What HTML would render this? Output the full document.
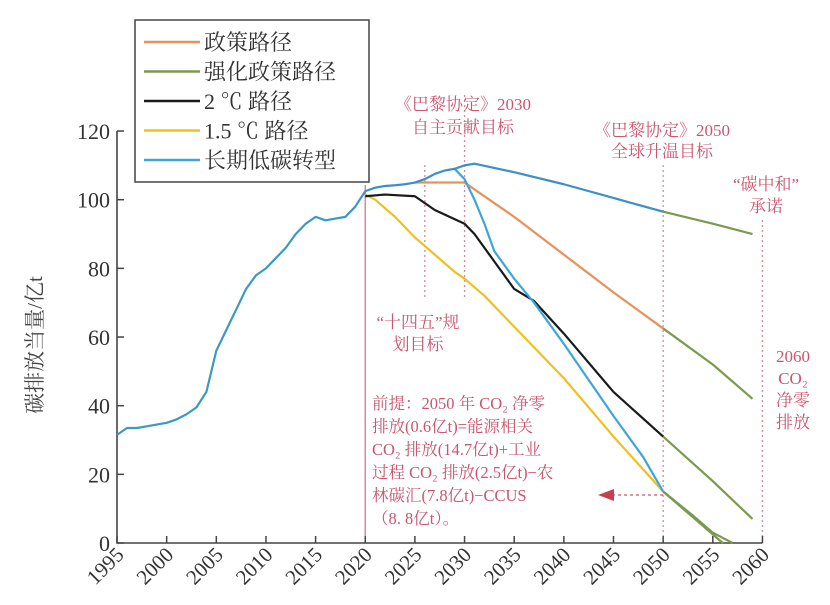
<!DOCTYPE html>
<html><head><meta charset="utf-8"><style>
html,body{margin:0;padding:0;background:#fff;}
svg{display:block;font-family:"Liberation Serif","Noto Serif CJK SC",serif;}
</style></head><body>
<svg id="chart" width="830" height="605" viewBox="0 0 830 605"></svg>
<script>
const hYears=[1995,1996,1997,1998,1999,2000,2001,2002,2003,2004,2005,2006,2007,2008,2009,2010,2011,2012,2013,2014,2015,2016,2017,2018,2019,2020];
const hVals=[31.5,33.5,33.5,34,34.5,35,36,37.5,39.5,44,56,62,68,74,78,80,83,86,90,93,95,94,94.5,95,98,102.5];
const ltYears=[2020,2021,2022,2023,2024,2025,2026,2027,2028,2029,2030,2031,2035,2040,2045,2050];
const ltVals=[102.5,103.5,104,104.2,104.5,105,106,107.5,108.5,109,110,110.5,108,104.5,100.5,96.5];
const ltGYears=[2050,2055,2059];
const ltGVals=[96.5,93,90];
const b2Years=[2029,2030,2031,2032,2033,2035,2037,2040,2045,2048,2050];
const b2Vals=[109,106,100,93,85,77,70,58,37,25,15];
const polYears=[2025,2030,2035,2040,2045,2050];
const polVals=[105,105,95,84,73,62.5];
const polGYears=[2050,2055,2059];
const polGVals=[62.5,52,42];
const t2Years=[2020,2022,2025,2027,2030,2031,2033,2035,2037,2040,2045,2050];
const t2Vals=[101,101.5,101,97,93,90,82,74,70.5,61,44,31];
const t2GYears=[2050,2055,2059];
const t2GVals=[31,18,7];
const t15Years=[2020,2021,2023,2025,2027,2029,2030,2032,2035,2040,2045,2050];
const t15Vals=[101.5,100,95,89,84,79,77,72,63,48,31,15];
const t15GYears=[2050,2053,2055,2057];
const t15GVals=[15,8,3,0];
const t15G2Years=[2050,2054,2056];
const t15G2Vals=[15,5,0];
const yTicks=[0,20,40,60,80,100,120];
const xTicks=[1995,2000,2005,2010,2015,2020,2025,2030,2035,2040,2045,2050,2055,2060];

const svg=document.getElementById('chart');
const NS='http://www.w3.org/2000/svg';
const X=y=>117+(y-1995)*9.93;
const Y=v=>543-v*3.433;
function mk(tag,attrs,parent){const e=document.createElementNS(NS,tag);for(const k in attrs)e.setAttribute(k,attrs[k]);(parent||svg).appendChild(e);return e;}
function txt(s,x,y,attrs){const e=mk('text',Object.assign({x:x,y:y},attrs||{}));e.textContent=s;return e;}
const pink='#c9566f';

// reference lines
let l;
l=mk('line',{x1:X(2020),y1:185,x2:X(2020),y2:543,stroke:'#d88a9a','stroke-width':1.5});


[[2026,165,300],[2030,95,300],[2050,165,543],[2060,220,543]].forEach(r=>{
 const d=mk('line',{x1:X(r[0]),y1:r[1],x2:X(r[0]),y2:r[2],stroke:'#d88a9a','stroke-width':1.3,'stroke-dasharray':'2,3'});
 
 
});

// axes
const ax=mk('path',{d:`M117,131 V543 H${X(2060)}`,fill:'none',stroke:'#444','stroke-width':1.6});


yTicks.forEach(v=>{
 mk('line',{x1:117,y1:Y(v),x2:124,y2:Y(v),stroke:'#444','stroke-width':1.5});
 const t=txt(String(v),110,Y(v)+8,{'text-anchor':'end','font-size':22,fill:'#333'});
 
 
});
xTicks.forEach(v=>{
 mk('line',{x1:X(v),y1:543,x2:X(v),y2:536,stroke:'#444','stroke-width':1.5});
 const t=txt(String(v),X(v)+8,556,{'text-anchor':'end','font-size':21,fill:'#333',transform:`rotate(-45 ${X(v)+8} 556)`});
 
 
});
const yt=txt('碳排放当量/亿t',42,345,{'text-anchor':'middle','font-size':21,fill:'#444',transform:'rotate(-90 42 345)'});



function line(xs,vs,color,name){
 const p=mk('polyline',{points:xs.map((x,i)=>X(x)+','+Y(vs[i])).join(' '),fill:'none',stroke:color,'stroke-width':2.2,'stroke-linejoin':'round'});
 
 
}
const G='#7a9a4e';
line(polGYears,polGVals,G,'policy-continuation-line');
line(t2GYears,t2GVals,G,'2c-continuation-line');
line(t15GYears,t15GVals,G,'1.5c-continuation-line');
line(t15G2Years,t15G2Vals,G,'1.5c-continuation-line-2');
line(ltGYears,ltGVals,G,'longterm-continuation-line');
line(polYears,polVals,'#e8925a','policy-path-line');
line(t15Years,t15Vals,'#f0c020','1.5c-path-line');
line(t2Years,t2Vals,'#1a1a1a','2c-path-line');
line(b2Years,b2Vals,'#3fa5d8','lowcarbon-drop-line');
line(ltYears,ltVals,'#3a90c8','longterm-lowcarbon-line');
line(hYears,hVals,'#3a9ac0','historical-line');

// arrow
const ar=mk('line',{x1:612,y1:495,x2:X(2050),y2:495,stroke:pink,'stroke-width':1.3,'stroke-dasharray':'3,3'});


const ah=mk('polygon',{points:'598,495 614,489 614,501',fill:'#c8404f'});



// annotations
function ann(lines,x,y0,dy,anchor,size,name){
 const g=mk('g',{});
 
 
 lines.forEach((s,i)=>txt(s,x,y0+i*dy,{'text-anchor':anchor,'font-size':size,fill:pink},).remove||0);
 lines.forEach((s,i)=>{const t=document.createElementNS(NS,'text');t.setAttribute('x',x);t.setAttribute('y',y0+i*dy);t.setAttribute('text-anchor',anchor);t.setAttribute('font-size',size);t.setAttribute('fill',pink);t.textContent=s;g.appendChild(t);});
}
// clean: simpler version without duplicates
function ann2(lines,x,y0,dy,anchor,size,name){
 const g=mk('g',{});
 
 
 lines.forEach((s,i)=>{const t=document.createElementNS(NS,'text');t.setAttribute('x',x);t.setAttribute('y',y0+i*dy);t.setAttribute('text-anchor',anchor);t.setAttribute('font-size',size);t.setAttribute('fill',pink);t.textContent=s;g.appendChild(t);});
}
ann2(['《巴黎协定》2030','自主贡献目标'],463,110,23,'middle',17,'annotation-paris-2030');
ann2(['《巴黎协定》2050','全球升温目标'],662,136,21,'middle',17,'annotation-paris-2050');
ann2(['“碳中和”','承诺'],766,190,22,'middle',17,'annotation-carbon-neutral');
ann2(['“十四五”规','划目标'],418,328,22,'middle',17,'annotation-14th-plan');
ann2(['2060','CO₂','净零','排放'],793,362,22,'middle',17,'annotation-2060');
ann2(['前提：2050 年 CO₂ 净零','排放(0.6亿t)=能源相关','CO₂ 排放(14.7亿t)+工业','过程 CO₂ 排放(2.5亿t)−农','林碳汇(7.8亿t)−CCUS','（8. 8亿t）。'],372,409,23,'start',16.5,'annotation-premise');

// legend
const lg=mk('g',{});


const lr=document.createElementNS(NS,'rect');
lr.setAttribute('x',135);lr.setAttribute('y',20);lr.setAttribute('width',234);lr.setAttribute('height',162);lr.setAttribute('fill','#fff');lr.setAttribute('stroke','#444');lr.setAttribute('stroke-width',1.5);
lg.appendChild(lr);
const legNames=['政策路径','强化政策路径','2 ℃ 路径','1.5 ℃ 路径','长期低碳转型'];
const legColors=['#e8925a','#7a9a4e','#1a1a1a','#f0c020','#3fa5d8'];
legNames.forEach((n,i)=>{
 const y=42+i*29.5;
 const e=document.createElementNS(NS,'g');
 
 
 const ln=document.createElementNS(NS,'line');
 ln.setAttribute('x1',144);ln.setAttribute('x2',200);ln.setAttribute('y1',y);ln.setAttribute('y2',y);ln.setAttribute('stroke',legColors[i]);ln.setAttribute('stroke-width',2.5);
 e.appendChild(ln);
 const t=document.createElementNS(NS,'text');
 t.setAttribute('x',204);t.setAttribute('y',y+8);t.setAttribute('font-size',22);t.setAttribute('fill','#333');t.textContent=n;
 e.appendChild(t);
 lg.appendChild(e);
});
</script>
</body></html>
